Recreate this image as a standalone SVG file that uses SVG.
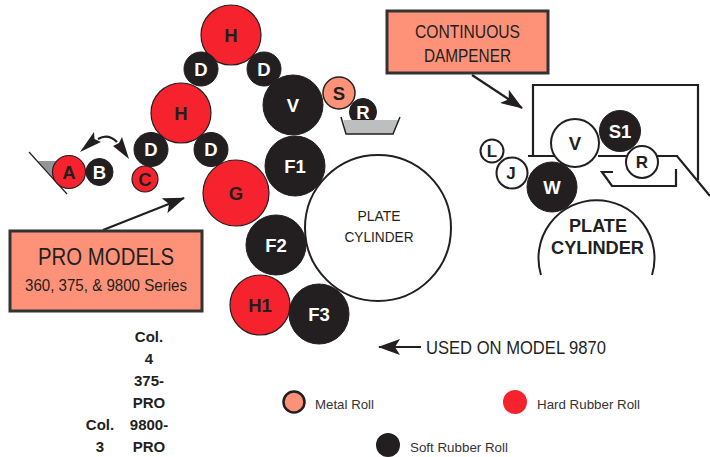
<svg xmlns="http://www.w3.org/2000/svg" width="710" height="457" viewBox="0 0 710 457">
<style>
text{font-family:"Liberation Sans",Arial,sans-serif;text-anchor:middle;fill:#231f20}
.r{fill:#f6232f;stroke:#231f20;stroke-width:1.2}
.k{fill:#231f20;stroke:#231f20}
.m{fill:#fe9279;stroke:#231f20;stroke-width:1.5}
.w{fill:#fff;stroke:#231f20;stroke-width:2}
.l{font-weight:bold;font-size:18.5px;fill:#231f20}
.lw{font-weight:bold;font-size:18.5px;fill:#fff}
.c{font-weight:bold;font-size:17px}
.ln{fill:none;stroke:#231f20;stroke-width:2.2}
.leg{font-size:13.500px;text-anchor:start;fill:#333}
.col{font-size:15px;font-weight:bold}
</style>
<defs>
<marker id="a" viewBox="0 0 22 16" refX="21" refY="8" markerWidth="22" markerHeight="16" markerUnits="userSpaceOnUse" orient="auto-start-reverse"><path d="M0 0L22 8L0 16L5 8Z" fill="#231f20"/></marker>
</defs>
<g id="wedge"><path d="M38 161H56V181Z" fill="#939598"/></g>
<g id="connectors">
<path d="M29 152L67 194" fill="none" stroke="#231f20" stroke-width="1.2"/>
<path d="M98 139Q108 133 117 142" class="ln" stroke-width="2.600"/>
<path d="M80 152L94 132L94.500 139L101 142Z" fill="#231f20"/>
<path d="M129 159L122 137L119 143L113 146Z" fill="#231f20"/>
<path d="M103 230L184 198" class="ln" marker-end="url(#a)"/>
<path d="M472 75L522 108" class="ln" marker-end="url(#a)"/>
<path d="M421 347H379" class="ln" stroke-width="3" marker-end="url(#a)"/>
<path d="M533 156V85H698V180" class="ln"/>
<path d="M528 156H555M598 156H677L710 196" class="ln"/>
<path d="M613 172H602L612 186H676V169" class="ln"/>
</g>
<g id="n-h1"><circle cx="231" cy="35" r="30" class="r"/><text x="231" y="42" class="l">H</text></g>
<g id="n-d1"><circle cx="201" cy="69" r="17" class="k"/><text x="201" y="76" class="lw">D</text></g>
<g id="n-d2"><circle cx="264" cy="69" r="17" class="k"/><text x="264" y="76" class="lw">D</text></g>
<g id="n-h2"><circle cx="181" cy="113" r="30" class="r"/><text x="181" y="120" class="l">H</text></g>
<g id="n-d3"><circle cx="151" cy="149.500" r="17" class="k"/><text x="151" y="156" class="lw">D</text></g>
<g id="n-d4"><circle cx="211" cy="149.500" r="17" class="k"/><text x="211" y="156" class="lw">D</text></g>
<g id="n-a"><circle cx="69" cy="172" r="16.500" class="r"/><text x="69" y="179" class="l">A</text></g>
<g id="n-b"><circle cx="99.500" cy="172" r="13.500" class="k"/><text x="99.500" y="179" class="lw">B</text></g>
<g id="n-c"><circle cx="145" cy="179" r="13" class="r"/><text x="145" y="185.500" class="l">C</text></g>
<g id="n-v"><circle cx="293" cy="105" r="30" class="k"/><text x="293" y="112" class="lw">V</text></g>
<g id="n-r"><circle cx="363" cy="112" r="13.500" class="k"/><text x="363" y="119" class="lw">R</text></g>
<g id="tray"><path d="M343.500 120H398.500L393 134H346Z" fill="#bcbec0"/><path d="M341 117L346 134H393L400 117" fill="none" stroke="#231f20" stroke-width="1.500"/></g>
<g id="n-s"><circle cx="339" cy="93" r="16" class="m"/><text x="339" y="100" class="l">S</text></g>
<g id="n-plate"><circle cx="378" cy="228" r="73" fill="#fff" stroke="#231f20" stroke-width="2"/><text x="379" y="221" font-size="14.500" textLength="43" lengthAdjust="spacingAndGlyphs">PLATE</text><text x="379" y="242" font-size="14.500" textLength="69" lengthAdjust="spacingAndGlyphs">CYLINDER</text></g>
<g id="n-f1"><circle cx="295" cy="166" r="30" class="k"/><text x="295" y="173" class="lw">F1</text></g>
<g id="n-g"><circle cx="236" cy="193" r="33" class="r"/><text x="236" y="200" class="l">G</text></g>
<g id="n-f2"><circle cx="276" cy="245" r="30" class="k"/><text x="276" y="252" class="lw">F2</text></g>
<g id="n-h1b"><circle cx="260" cy="305" r="30" class="r"/><text x="260" y="312" class="l">H1</text></g>
<g id="n-f3"><circle cx="319" cy="314" r="30" class="k"/><text x="319" y="321" class="lw">F3</text></g>
<g id="n-promodels"><rect x="10" y="231" width="192" height="80" fill="#fe9279" stroke="#333" stroke-width="3"/><text x="106" y="265" font-size="24.500" textLength="136" lengthAdjust="spacingAndGlyphs">PRO MODELS</text><text x="106" y="291" font-size="16.500" textLength="162" lengthAdjust="spacingAndGlyphs">360, 375,  &amp; 9800 Series</text></g>
<g id="n-dampener"><rect x="387" y="11" width="161" height="62" fill="#fe9279" stroke="#333" stroke-width="3"/><text x="467.500" y="38" font-size="19" textLength="105" lengthAdjust="spacingAndGlyphs">CONTINUOUS</text><text x="467.500" y="62" font-size="19" textLength="87" lengthAdjust="spacingAndGlyphs">DAMPENER</text></g>
<g id="n-plate2"><path d="M541 275A58 58 0 1 1 652 275" fill="#fff" stroke="#231f20" stroke-width="2"/><text x="598" y="232" font-size="17.500" font-weight="bold" textLength="58" lengthAdjust="spacingAndGlyphs">PLATE</text><text x="597.500" y="254" font-size="17.500" font-weight="bold" textLength="93" lengthAdjust="spacingAndGlyphs">CYLINDER</text></g>
<g id="n-w"><circle cx="552" cy="187" r="25" class="k"/><text x="552" y="194" class="lw">W</text></g>
<g id="n-l"><circle cx="492" cy="151" r="11.500" class="w"/><text x="492" y="157" class="c">L</text></g>
<g id="n-j"><circle cx="512" cy="173" r="15.500" class="w"/><text x="511" y="179" class="c">J</text></g>
<g id="n-s1"><circle cx="620" cy="131" r="20.500" class="k"/><text x="620" y="137.500" class="lw">S1</text></g>
<g id="n-v2"><circle cx="575" cy="143" r="24" class="w"/><text x="575" y="149.500" class="l">V</text></g>
<g id="n-r2"><circle cx="642" cy="162" r="16" class="w"/><text x="642" y="168" class="c">R</text></g>
<g id="caption"><text x="516" y="354" font-size="18.500" textLength="180" lengthAdjust="spacingAndGlyphs">USED ON MODEL 9870</text></g>
<g id="col4"><text x="149" y="342" class="col">Col.</text><text x="149" y="364" class="col">4</text><text x="149" y="386" class="col">375-</text><text x="149" y="408" class="col">PRO</text><text x="149" y="430" class="col">9800-</text><text x="149" y="452" class="col">PRO</text></g>
<g id="col3"><text x="100" y="430" class="col">Col.</text><text x="100" y="452" class="col">3</text></g>
<g id="legend-metal"><circle cx="294" cy="402" r="10.500" fill="#fe9279" stroke="#231f20" stroke-width="2.500"/><text x="315" y="409" class="leg" textLength="59" lengthAdjust="spacingAndGlyphs">Metal Roll</text></g>
<g id="legend-hard"><circle cx="515" cy="402" r="12" fill="#f6232f"/><text x="537" y="409" class="leg" textLength="103" lengthAdjust="spacingAndGlyphs">Hard Rubber Roll</text></g>
<g id="legend-soft"><circle cx="388" cy="445" r="12" fill="#231f20"/><text x="410" y="452" class="leg" textLength="98" lengthAdjust="spacingAndGlyphs">Soft Rubber Roll</text></g>
</svg>
